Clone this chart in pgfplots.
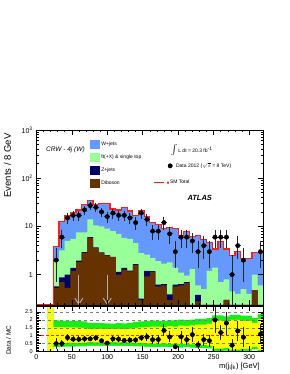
\documentclass[border=0pt]{standalone}
\usepackage{fontspec}
\setmainfont{Liberation Sans}
\usepackage{pgfplots}
\usepackage{pgfplotstable}
\pgfplotsset{compat=1.18}
\usetikzlibrary{arrows.meta}

\definecolor{wjets}{RGB}{102,153,255}
\definecolor{ttcol}{RGB}{153,255,153}
\definecolor{zcol}{RGB}{0,0,102}
\definecolor{dibcol}{RGB}{102,51,0}
\definecolor{bandgreen}{RGB}{20,240,20}
\definecolor{bandyellow}{RGB}{255,255,0}
\definecolor{smred}{RGB}{255,30,30}
\newcommand\fs[1]{\fontsize{#1}{#1}\selectfont}

% stacked MC (cumulative): bin left edge
\pgfplotstableread{
x dib dibz dibzt tot
0 0.1 0.1 0.1 0.235
8 0.1 0.1 0.1 0.235
16 0.1 0.1 0.1 0.235
24 0.53 0.57 1.9 3.9
32 0.70 0.88 3.2 12.5
40 0.53 1.0 5.0 16.5
48 1.2 1.38 5.5 19.5
56 1.84 1.96 7.5 22
64 2.84 2.95 7.5 28
72 5.85 6.0 14 34
80 3.6 3.7 10.5 29
88 2.84 2.9 10 29.5
96 2.5 2.55 9 29.5
104 2.3 2.35 8 23
112 1.0 1.14 7 22
120 1.27 1.38 5.8 24.5
128 1.17 1.22 5.5 21
136 1.6 1.65 4.5 17
144 0.3 0.32 2.8 21.5
152 0.92 1.2 2.6 16
160 1.14 1.18 2.2 12
168 0.57 0.62 1.9 10.8
176 0.6 0.64 1.7 9.2
184 0.3 0.39 1.8 9.5
192 0.57 0.62 1.4 9.2
200 0.6 0.64 1.1 6.6
208 0.67 0.7 0.95 7.8
216 0.1 0.1 1.3 6.2
224 0.28 0.38 0.6 6.5
232 0.1 0.1 0.5 5.4
240 0.1 0.1 1.2 4.6
248 0.1 0.1 1.4 3.4
256 0.1 0.1 0.7 4.8
264 0.3 0.3 0.8 3.4
272 0.1 0.1 0.45 2.5
280 0.1 0.1 0.4 3.0
288 0.1 0.1 0.5 2.2
296 0.1 0.1 0.4 2.2
304 0.48 0.48 1.0 2.9
312 0.1 0.1 0.6 2.9
320 0.1 0.1 0.6 2.9
}\mc

\pgfplotstableread{
x y ep em
28 2 1.6 1.3
36 6 2.45 2.45
44 15 3.9 3.9
52 17 4.1 4.1
60 17 4.1 4.1
68 22 4.7 4.7
76 27 5.2 5.2
84 25 5 5
92 20 4.5 4.5
100 16 4 4
108 19 4.4 4.4
116 17 4.1 4.1
124 17 4.1 4.1
132 15 3.9 3.9
140 12 3.5 3.5
148 19 4.4 4.4
156 14 3.7 3.7
164 8 2.8 2.8
172 8 2.8 2.8
180 12 3.5 3.5
188 7 2.65 2.65
196 3 1.9 1.6
204 6 2.45 2.45
212 6 2.45 2.45
220 5 2.24 2.24
228 3 1.9 1.6
236 4 2.2 1.9
244 3 1.9 1.6
252 6 2.45 2.45
260 6 2.45 2.45
268 6 2.45 2.45
276 1 1.6 0.99
284 4 2.2 1.9
292 2 1.6 1.3
316 3 1.9 1.6
}\data

\pgfplotstableread{
x r e
28 0.5 0.35
36 0.5 0.2
44 0.88 0.23
52 0.78 0.19
60 0.77 0.19
68 0.8 0.17
76 0.8 0.15
84 0.86 0.17
92 0.68 0.15
100 0.53 0.13
108 0.8 0.18
116 0.78 0.19
124 0.7 0.17
132 0.72 0.19
140 0.73 0.21
148 0.87 0.2
156 0.93 0.25
164 0.75 0.27
172 0.76 0.27
180 1.33 0.38
188 0.92 0.35
196 0.3 0.17
204 0.93 0.38
212 0.75 0.31
220 1.07 0.48
228 0.42 0.24
236 0.75 0.38
244 0.68 0.39
252 2.0 0.82
260 1.2 0.49
268 1.8 0.73
276 0.4 0.4
284 1.3 0.65
292 0.9 0.64
316 1.1 0.64
}\ratio

\pgfplotstableread{
x glo ghi ylo yhi
16 0 3 0 3
24 0.28 1.97 0.52 1.55
32 0.30 1.95 0.53 1.54
40 0.31 1.94 0.54 1.53
48 0.31 1.92 0.55 1.52
56 0.32 1.92 0.55 1.51
64 0.33 1.90 0.56 1.50
72 0.36 1.80 0.60 1.42
80 0.35 1.82 0.58 1.44
88 0.35 1.80 0.58 1.43
96 0.36 1.78 0.60 1.42
104 0.36 1.77 0.60 1.42
112 0.35 1.80 0.58 1.43
120 0.36 1.78 0.60 1.42
128 0.34 1.82 0.57 1.45
136 0.33 1.87 0.55 1.50
144 0.32 1.90 0.54 1.52
152 0.30 1.92 0.52 1.55
160 0.28 1.97 0.50 1.58
168 0.28 1.94 0.50 1.58
176 0.30 1.92 0.52 1.55
184 0.27 1.97 0.49 1.60
192 0.28 1.97 0.50 1.58
200 0.25 2.02 0.46 1.64
208 0.27 1.99 0.48 1.62
216 0.25 2.02 0.45 1.66
224 0.22 2.07 0.41 1.70
232 0.22 2.07 0.41 1.70
240 0.20 2.12 0.37 1.76
248 0.03 2.28 0.18 1.95
256 0.03 2.28 0.18 1.95
264 0.06 2.22 0.21 1.90
272 0.00 2.32 0.12 2.00
280 0.00 2.32 0.12 2.00
288 0.04 2.27 0.17 1.94
296 0.04 2.27 0.17 1.94
304 0.14 2.12 0.30 1.82
312 0.00 2.36 0.10 2.05
320 0.00 2.36 0.10 2.05
}\band

\begin{document}
\begin{tikzpicture}
\path[use as bounding box] (0,0) rectangle (289pt,374pt);

% ---------------- main panel ----------------
\begin{axis}[
  at={(36.3pt,69pt)}, anchor=south west,
  width=227pt, height=175pt, scale only axis,
  xmin=0, xmax=320, ymode=log, ymin=0.235, ymax=1000,
  log origin y=infty,
  xtick={0,50,...,300}, minor x tick num=4, xticklabels={},
  ytick={1,10,100,1000},
  yticklabels={1,10,10\textsuperscript{2},10\textsuperscript{3}},
  yticklabel style={font=\fs{7}},
  tick align=inside, major tick length=5pt, minor tick length=2.5pt,
  tick style={black, line width=0.5pt},
  axis line style={line width=0.7pt},
  axis on top,
  legend style={at={(0.2366,0.944)}, anchor=north west, draw=none, fill=none,
    font=\fs{5}, row sep=3.9pt, inner sep=0pt,
    nodes={inner sep=1.2pt}},
  legend cell align=left,
]
\addplot[const plot, fill=wjets, draw=none,
  legend image code/.code={\fill[wjets] (0pt,-4.5pt) rectangle (10pt,4.5pt);}]
  table[x=x,y=tot]{\mc} \closedcycle;
\addlegendentry{W+jets}
\addplot[const plot, fill=ttcol, draw=none,
  legend image code/.code={\fill[ttcol] (0pt,-4.5pt) rectangle (10pt,4.5pt);}]
  table[x=x,y=dibzt]{\mc} \closedcycle;
\addlegendentry{\={t}t(+X) \& single top}
\addplot[const plot, fill=zcol, draw=none,
  legend image code/.code={\fill[zcol] (0pt,-4.5pt) rectangle (10pt,4.5pt);}]
  table[x=x,y=dibz]{\mc} \closedcycle;
\addlegendentry{Z+jets}
\addplot[const plot, fill=dibcol, draw=none,
  legend image code/.code={\fill[dibcol] (0pt,-4.5pt) rectangle (10pt,4.5pt);}]
  table[x=x,y=dib]{\mc} \closedcycle;
\addlegendentry{Diboson}
\addplot[const plot, smred, line width=1.2pt, mark=none, forget plot]
  table[x=x,y=tot]{\mc};

\draw[gray!60, line width=0.9pt, -{Straight Barb[length=6pt,width=8pt]}]
  (axis cs:60,1) -- (axis cs:60,0.235);
\draw[gray!60, line width=0.9pt, -{Straight Barb[length=6pt,width=8pt]}]
  (axis cs:100,1) -- (axis cs:100,0.235);

\addplot[only marks, mark=*, mark size=2.2pt, black, forget plot,
  error bars/.cd, y dir=both, y explicit, x dir=both, x fixed=4,
  error bar style={line width=1pt, black!85}, error mark=none]
  table[x=x,y=y,y error plus=ep,y error minus=em]{\data};

\node[anchor=west, font=\fs{6.5}\itshape] at (rel axis cs:0.028,0.886) {CRW - 4j (W)};
\node[anchor=west, font=\fs{5}] at (rel axis cs:0.577,0.886)
  {{\fs{9}$\int$}\,L dt = 20.3 fb\textsuperscript{-1}};
\node[font=\fs{7.5}\bfseries\itshape] at (rel axis cs:0.72,0.613) {ATLAS};
\end{axis}

% ---------------- ratio panel ----------------
\begin{axis}[
  at={(36.3pt,22.5pt)}, anchor=south west,
  width=227pt, height=45pt, scale only axis,
  xmin=0, xmax=320, ymin=0, ymax=2.85,
  xtick={0,50,...,300}, minor x tick num=4,
  ytick={0,0.5,...,2.5}, minor y tick num=4,
  /pgf/number format/assume math mode=true,
  xticklabel style={font=\fs{7}},
  yticklabel style={font=\fs{5.5}},
  tick align=inside, major tick length=5pt, minor tick length=2.5pt,
  tick style={black, line width=0.5pt},
  axis line style={line width=0.7pt},
  axis on top,
  legend style={at={(0.577,4.22)}, anchor=north west, draw=none, fill=none,
    font=\fs{5}, row sep=9pt, inner sep=0pt, nodes={inner sep=1.2pt}},
  legend cell align=left,
]
\addplot[const plot, fill=bandgreen, draw=none, forget plot] table[x=x,y=ghi]{\band} \closedcycle;
\addplot[const plot, fill=bandyellow, draw=none, forget plot] table[x=x,y=yhi]{\band} \closedcycle;
\addplot[const plot, fill=bandgreen, draw=none, forget plot] table[x=x,y=ylo]{\band} \closedcycle;
\addplot[const plot, fill=white, draw=none, forget plot] table[x=x,y=glo]{\band} \closedcycle;

\addplot[gray, dashed, line width=0.4pt, forget plot] coordinates {(0,0.5) (320,0.5)};
\addplot[gray, dashed, line width=0.4pt, forget plot] coordinates {(0,1.5) (320,1.5)};
\addplot[gray, dashed, line width=0.4pt, forget plot] coordinates {(0,2) (320,2)};
\addplot[gray, dashed, line width=0.4pt, forget plot] coordinates {(0,2.5) (320,2.5)};
\addplot[smred, densely dashed, line width=1pt, forget plot] coordinates {(0,1) (320,1)};

\addplot[only marks, mark=*, mark size=2.2pt, black,
  legend image code/.code={\fill[black, overlay] (2pt,0pt) circle (2.2pt); \path (0pt,-1pt) rectangle (0pt,1pt);},
  error bars/.cd, y dir=both, y explicit, x dir=both, x fixed=4,
  error bar style={line width=1pt, black!85}, error mark=none]
  table[x=x,y=r,y error=e]{\ratio};
\addlegendentry{\hspace{6pt}Data 2012 (\ensuremath{\sqrt{s}} = 8 TeV)}
\addlegendimage{color=smred, line width=1.4pt,
  legend image code/.code={\draw[smred, line width=1.4pt, overlay] (-14pt,0pt) -- (-4pt,0pt); \path (0pt,-1pt) rectangle (0pt,1pt);}}
\addlegendentry{SM Total}
\end{axis}

\node[rotate=90, anchor=east, font=\fs{9.5}] at (7.5pt,244pt) {Events / 8 GeV};
\node[rotate=90, anchor=east, font=\fs{6.5}] at (8.5pt,52pt) {Data / MC};
\node[anchor=base east, font=\fs{7.5}] at (263.3pt,5.5pt) {m(j\textsubscript{i}j\textsubscript{k}) [GeV]};
\end{tikzpicture}
\end{document}
